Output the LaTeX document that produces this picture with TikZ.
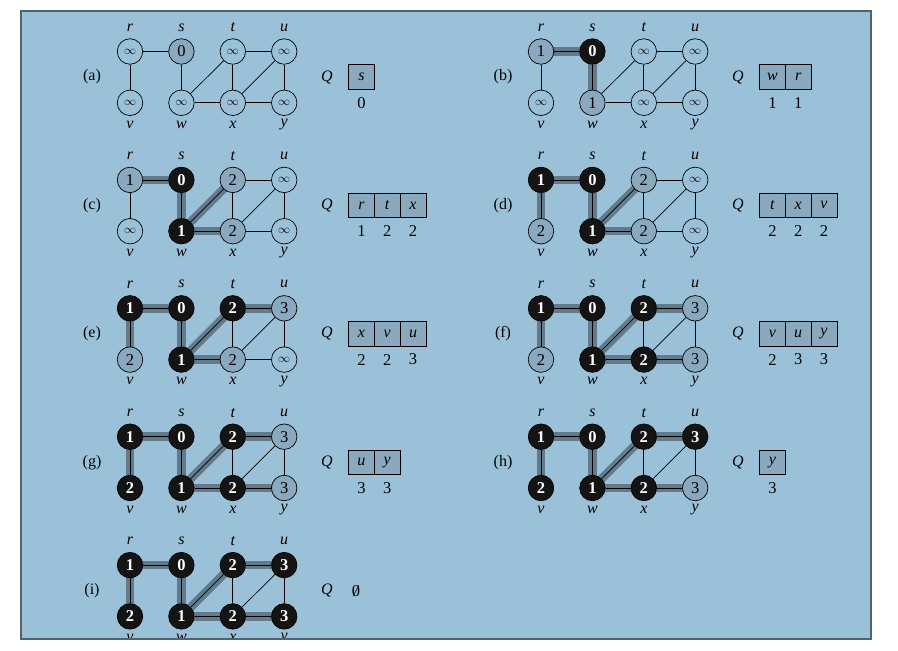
\documentclass[tikz,border=0pt]{standalone}
\usepackage{fontspec}
\setmainfont{Liberation Serif}
\pgfdeclarelayer{back}
\pgfdeclarelayer{edges}
\pgfsetlayers{back,edges,main}
\definecolor{bgc}{HTML}{9BC1D9}
\definecolor{framec}{HTML}{4E6472}
\definecolor{gnode}{HTML}{8AA9BE}
\definecolor{bandc}{HTML}{617A8C}
\definecolor{bnode}{HTML}{141414}
\newcommand\infsym{{\fontsize{12}{12}\selectfont$\infty$}}
\tikzset{
 vtx/.style={circle, draw=black, line width=0.7pt, minimum size=25.5pt, inner sep=0pt, font=\fontsize{16.5}{18}\selectfont},
 wn/.style={vtx},
 gn/.style={vtx, fill=gnode},
 bn/.style={vtx, fill=bnode, text=white, font=\fontsize{16.5}{18}\selectfont\bfseries},
 thinedge/.style={line width=0.7pt, black},
 treeedge/.style={line width=8.5pt, bandc},
 lab/.style={font=\fontsize{16}{18}\selectfont\itshape, inner sep=0pt},
 plab/.style={font=\fontsize{16}{18}\selectfont, inner sep=0pt},
 numlab/.style={font=\fontsize{16.5}{18}\selectfont, inner sep=0pt},
 cell/.style={draw=black, line width=0.8pt, fill=gnode, minimum width=25.8pt, minimum height=24.5pt, inner sep=0pt, font=\fontsize{16}{18}\selectfont\itshape},
}
% #1 id, #2 ox, #3 oy, #4 label, #5 nodes, #6 tree edges, #7 queue
\newcommand\panel[7]{%
 \begin{scope}[shift={(#2,#3)}]
  \foreach \n/\c/\rw/\st/\v in {#5} {\node[\st] (#1\n) at ({130+51.4*\c},{51.5+51.3*\rw}) {\v};}
  \foreach \n/\c in {r/0,s/1,t/2,u/3} {\node[lab] (#1l\n) at ({130+51.4*\c},27.5) {\n};}
  \foreach \n/\c in {v/0,w/1,x/2,y/3} {\node[lab] (#1l\n) at ({130+51.4*\c},124.5) {\n};}
  \node[plab] (#1lab) at (92,77) {(#4)};
  \node[lab] (#1Q) at (327,77) {Q};
  \begin{pgfonlayer}{edges}
   \foreach \a/\b in {#6} {\draw[treeedge] (#1\a.center) -- (#1\b.center);}
   \foreach \a/\b in {r/s,r/v,s/w,w/t,w/x,t/x,t/u,x/u,x/y,u/y} {\draw[thinedge] (#1\a) -- (#1\b);}
  \end{pgfonlayer}
  \foreach \q/\d [count=\i] in {#7} {%
   \node[cell] (#1q\i) at ({361.4+25.8*(\i-1)},77) {\q};
   \node[numlab] (#1d\i) at ({361.4+25.8*(\i-1)},102.8) {\d};}
 \end{scope}}
\begin{document}
\begin{tikzpicture}[x=1pt,y=-1pt]
\useasboundingbox (0,0) rectangle (898,651);
\begin{pgfonlayer}{back}
\fill[bgc] (21,11) rectangle (871,639);
\end{pgfonlayer}
\panel{a}{0}{0}{a}{r/0/0/wn/\infsym, s/1/0/gn/0, t/2/0/wn/\infsym, u/3/0/wn/\infsym, v/0/1/wn/\infsym, w/1/1/wn/\infsym, x/2/1/wn/\infsym, y/3/1/wn/\infsym}{s/s}{s/0}
\panel{b}{411}{0}{b}{r/0/0/gn/1, s/1/0/bn/0, t/2/0/wn/\infsym, u/3/0/wn/\infsym, v/0/1/wn/\infsym, w/1/1/gn/1, x/2/1/wn/\infsym, y/3/1/wn/\infsym}{r/s,s/w}{w/1,r/1}
\panel{c}{0}{128.4}{c}{r/0/0/gn/1, s/1/0/bn/0, t/2/0/gn/2, u/3/0/wn/\infsym, v/0/1/wn/\infsym, w/1/1/bn/1, x/2/1/gn/2, y/3/1/wn/\infsym}{r/s,s/w,w/t,w/x}{r/1,t/2,x/2}
\panel{d}{411}{128.4}{d}{r/0/0/bn/1, s/1/0/bn/0, t/2/0/gn/2, u/3/0/wn/\infsym, v/0/1/gn/2, w/1/1/bn/1, x/2/1/gn/2, y/3/1/wn/\infsym}{r/s,s/w,w/t,w/x,r/v}{t/2,x/2,v/2}
\panel{e}{0}{256.8}{e}{r/0/0/bn/1, s/1/0/bn/0, t/2/0/bn/2, u/3/0/gn/3, v/0/1/gn/2, w/1/1/bn/1, x/2/1/gn/2, y/3/1/wn/\infsym}{r/s,s/w,w/t,w/x,r/v,t/u}{x/2,v/2,u/3}
\panel{f}{411}{256.8}{f}{r/0/0/bn/1, s/1/0/bn/0, t/2/0/bn/2, u/3/0/gn/3, v/0/1/gn/2, w/1/1/bn/1, x/2/1/bn/2, y/3/1/gn/3}{r/s,s/w,w/t,w/x,r/v,t/u,x/y}{v/2,u/3,y/3}
\panel{g}{0}{385.2}{g}{r/0/0/bn/1, s/1/0/bn/0, t/2/0/bn/2, u/3/0/gn/3, v/0/1/bn/2, w/1/1/bn/1, x/2/1/bn/2, y/3/1/gn/3}{r/s,s/w,w/t,w/x,r/v,t/u,x/y}{u/3,y/3}
\panel{h}{411}{385.2}{h}{r/0/0/bn/1, s/1/0/bn/0, t/2/0/bn/2, u/3/0/bn/3, v/0/1/bn/2, w/1/1/bn/1, x/2/1/bn/2, y/3/1/gn/3}{r/s,s/w,w/t,w/x,r/v,t/u,x/y}{y/3}
\begin{scope}[shift={(0,513.6)}]
\node[numlab] (iempty) at (356,77) {\makebox[0pt]{0}\makebox[0pt]{\itshape /}};
\end{scope}
\panel{i}{0}{513.6}{i}{r/0/0/bn/1, s/1/0/bn/0, t/2/0/bn/2, u/3/0/bn/3, v/0/1/bn/2, w/1/1/bn/1, x/2/1/bn/2, y/3/1/bn/3}{r/s,s/w,w/t,w/x,r/v,t/u,x/y}{}
\fill[white] (0,639) rectangle (898,651);
\draw[framec, line width=2.5pt] (21,11) rectangle (871,639);
\end{tikzpicture}
\end{document}
